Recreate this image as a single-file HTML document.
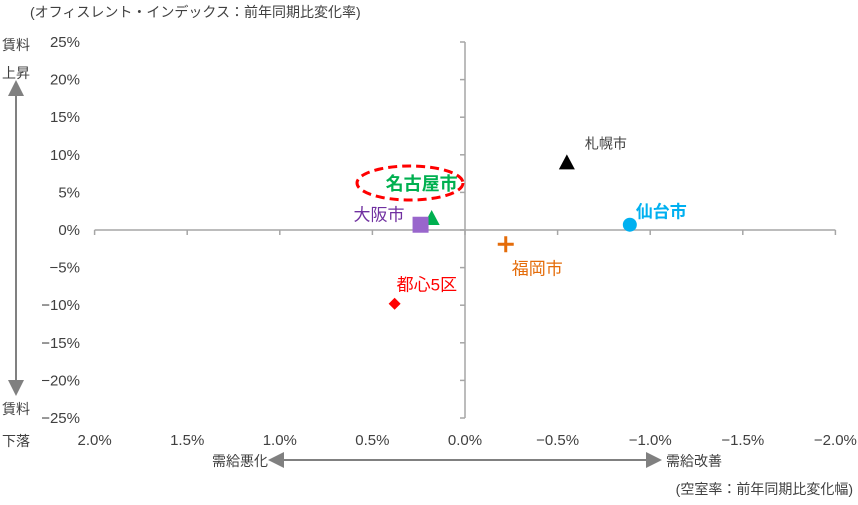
<!DOCTYPE html>
<html><head><meta charset="utf-8"><style>
body{margin:0;background:#fff;}
svg text{font-family:"Liberation Sans Narrow","Liberation Sans","Noto Sans CJK JP",sans-serif;}
</style></head><body>
<svg width="858" height="500" viewBox="0 0 858 500" xmlns="http://www.w3.org/2000/svg">
<defs>
<marker id="ah" markerWidth="8" markerHeight="8" refX="4" refY="4" orient="auto"><path d="M0,0L8,4L0,8z" fill="#808080"/></marker>
</defs>
<text x="30" y="17" font-size="14" fill="#404040">(オフィスレント・インデックス：前年同期比変化率)</text>
<text x="853" y="494" font-size="14" fill="#404040" text-anchor="end">(空室率：前年同期比変化幅)</text>
<g id="axes"></g>
<g id="marks"></g>
<text x="2" y="50" font-size="14" fill="#404040">賃料</text>
<text x="2" y="78" font-size="14" fill="#404040">上昇</text>
<text x="2" y="414" font-size="14" fill="#404040">賃料</text>
<text x="2" y="446" font-size="14" fill="#404040">下落</text>
<line x1="16" y1="230" x2="16" y2="88" stroke="#808080" stroke-width="2" marker-end="url(#ah)"/>
<line x1="16" y1="230" x2="16" y2="388" stroke="#808080" stroke-width="2" marker-end="url(#ah)"/>
<text x="268" y="466" font-size="14" fill="#404040" text-anchor="end">需給悪化</text>
<text x="666" y="466" font-size="14" fill="#404040">需給改善</text>
<line x1="465" y1="460" x2="276" y2="460" stroke="#808080" stroke-width="2" marker-end="url(#ah)"/>
<line x1="465" y1="460" x2="654" y2="460" stroke="#808080" stroke-width="2" marker-end="url(#ah)"/>
<ellipse cx="410" cy="183" rx="53" ry="17" fill="none" stroke="#ff0000" stroke-width="3" stroke-dasharray="9,5"/>
</svg>
<script>
const xTicks=[2.0,1.5,1.0,0.5,0.0,-0.5,-1.0,-1.5,-2.0];
const yTicks=[25,20,15,10,5,0,-5,-10,-15,-20,-25];
const cities=["札幌市","仙台市","名古屋市","大阪市","福岡市","都心5区"];
const vacancyChange=[-0.55,-0.89,0.18,0.24,-0.22,0.38];
const rentChange=[9.0,0.7,1.6,0.7,-1.9,-9.8];
const ns="http://www.w3.org/2000/svg";
const X=v=>465-(v/0.5)*92.6;
const Y=v=>230-(v/5)*37.6;
function mk(tag,attrs,parent,text){const e=document.createElementNS(ns,tag);for(const k in attrs)e.setAttribute(k,attrs[k]);if(text!==undefined)e.textContent=text;parent.appendChild(e);return e;}
const ax=document.getElementById('axes'),mg=document.getElementById('marks');
let e=mk('line',{x1:X(2),y1:Y(0),x2:X(-2),y2:Y(0),stroke:'#a6a6a6','stroke-width':1.5},ax);


e=mk('line',{x1:X(0),y1:Y(25),x2:X(0),y2:Y(-25),stroke:'#a6a6a6','stroke-width':1.5},ax);


xTicks.forEach(v=>{
 let t=mk('line',{x1:X(v),y1:Y(0),x2:X(v),y2:Y(0)+5,stroke:'#a6a6a6','stroke-width':1.5},ax);
 
 
 let l=mk('text',{x:X(v),y:445,'font-size':15,fill:'#404040','text-anchor':'middle'},ax,(v===0?'0.0':(v<0?'−':'')+Math.abs(v).toFixed(1))+'%');
 
 
});
yTicks.forEach(v=>{
 let t=mk('line',{x1:X(0)-5,y1:Y(v),x2:X(0),y2:Y(v),stroke:'#a6a6a6','stroke-width':1.5},ax);
 
 
 let l=mk('text',{x:80,y:Y(v)+5,'font-size':15,fill:'#404040','text-anchor':'end'},ax,(v<0?'−':'')+Math.abs(v)+'%');
 
 
});
const styles=[
 {shape:'tri',color:'#000',lc:'#404040',dx:18,dy:-14,fs:14,fw:'normal',anchor:'start'},
 {shape:'circle',color:'#00b0f0',lc:'#00b0f0',dx:6,dy:-7,fs:17,fw:'bold',anchor:'start'},
 {shape:'tri',color:'#00b050',lc:'#00b050',dx:-10,dy:-28,fs:18,fw:'bold',anchor:'middle'},
 {shape:'square',color:'#9966cc',lc:'#7030a0',dx:-16,dy:-4,fs:17,fw:'normal',anchor:'end'},
 {shape:'plus',color:'#e46c0a',lc:'#e46c0a',dx:6,dy:30,fs:17,fw:'normal',anchor:'start'},
 {shape:'diamond',color:'#ff0000',lc:'#ff0000',dx:2,dy:-13,fs:17,fw:'normal',anchor:'start'}];
cities.forEach((c,i)=>{
 const x=X(vacancyChange[i]),y=Y(rentChange[i]),s=styles[i];let m;
 if(s.shape==='tri')m=mk('polygon',{points:`${x},${y-8} ${x-8},${y+7} ${x+8},${y+7}`,fill:s.color},mg);
 else if(s.shape==='circle')m=mk('circle',{cx:x,cy:y,r:7,fill:s.color},mg);
 else if(s.shape==='square')m=mk('rect',{x:x-8,y:y-8,width:16,height:16,fill:s.color},mg);
 else if(s.shape==='plus')m=mk('path',{d:`M${x-8},${y}H${x+8}M${x},${y-8}V${y+8}`,stroke:s.color,'stroke-width':3},mg);
 else m=mk('polygon',{points:`${x},${y-6} ${x+6},${y} ${x},${y+6} ${x-6},${y}`,fill:s.color},mg);
 
 
 const l=mk('text',{x:x+s.dx,y:y+s.dy,'font-size':s.fs,'font-weight':s.fw,fill:s.lc,'text-anchor':s.anchor},mg,c);
 
 
});
</script>
</body></html>
